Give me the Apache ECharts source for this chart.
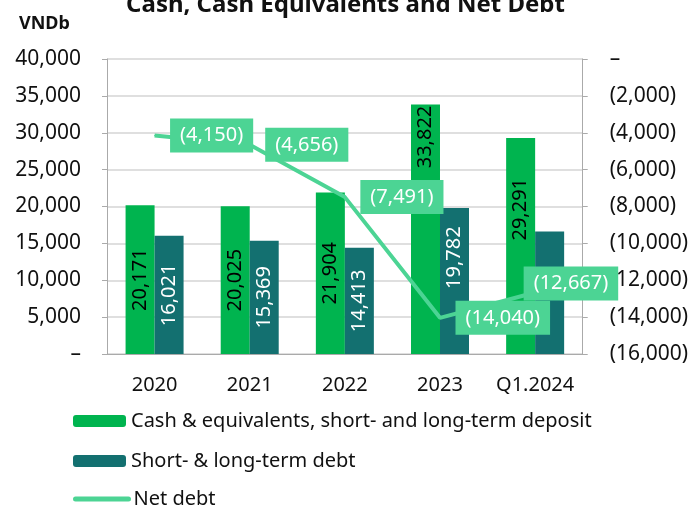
<!DOCTYPE html>
<html><head><meta charset="utf-8">
<script src="https://cdn.jsdelivr.net/npm/echarts@6/dist/echarts.min.js"></script>
<style>html,body{margin:0;padding:0;background:#fff}#c{width:691px;height:510px}</style>
</head><body><div id="c"></div>
<script>
const categories = ['2020', '2021', '2022', '2023', 'Q1.2024'];
const cashValues = [20171, 20025, 21904, 33822, 29291];
const debtValues = [16021, 15369, 14413, 19782, 16624];
const netDebtValues = [-4150, -4656, -7491, -14040, -12667];
const seriesNames = ['Cash & equivalents, short- and long-term deposit', 'Short- & long-term debt', 'Net debt'];

const FONT = 'Noto Sans';
const fmt = v => Math.abs(v).toLocaleString('en-US');
// label placement overrides (styling only)
const cashLabelPos = {3: ['50%', '13%'], 4: ['50%', '33%']};
const debtLabelPos = {3: ['50%', '34%']};
const debtLabelHidden = {4: true};

function barData(vals, posMap, hidden) {
  return vals.map((v, i) => {
    if (hidden && hidden[i]) return {value: v, label: {show: false}};
    if (posMap[i]) return {value: v, label: {position: posMap[i], align: 'center', verticalAlign: 'middle'}};
    return v;
  });
}

const legendTops = [411, 451, 489];
const legends = seriesNames.map((n, i) => ({
  orient: 'vertical', left: 73, top: legendTops[i], itemWidth: 53, itemHeight: 12, padding: 0,
  textStyle: {fontFamily: FONT, fontSize: 20, color: '#111', lineHeight: 20},
  data: [i === 2 ? {name: n, itemStyle: {opacity: 0}, lineStyle: {width: 5, cap: 'round', color: '#4cd494'}} : n]
}));

const chart = echarts.init(document.getElementById('c'));
chart.setOption({
  animation: false,
  textStyle: {fontFamily: FONT},
  title: [
    {text: 'Cash, Cash Equivalents and Net Debt', left: 'center', top: -12,
     textStyle: {fontFamily: FONT, fontSize: 24, fontWeight: 'bold', color: '#111'}},
    {text: 'VNDb', left: 14, top: 10, textStyle: {fontFamily: FONT, fontSize: 18, fontWeight: 'bold', color: '#111'}}
  ],
  grid: {left: 107, right: 106, top: 59, bottom: 156},
  legend: legends,
  xAxis: {
    type: 'category', data: categories,
    axisLine: {lineStyle: {color: '#aaa'}}, axisTick: {show: false},
    axisLabel: {fontFamily: FONT, fontSize: 20, color: '#111', margin: 21, interval: 0}
  },
  yAxis: [
    {type: 'value', min: 0, max: 40000, interval: 5000,
     axisLine: {show: true, lineStyle: {color: '#aaa'}},
     axisTick: {show: true, length: 5, lineStyle: {color: '#aaa'}},
     splitLine: {lineStyle: {color: '#d4d4d4', width: 1.5}},
     axisLabel: {fontFamily: FONT, fontSize: 21, color: '#111', margin: 26,
       formatter: v => v === 0 ? '–' : v.toLocaleString('en-US')}},
    {type: 'value', min: -16000, max: 0, interval: 2000,
     axisLine: {show: true, lineStyle: {color: '#aaa'}},
     axisTick: {show: true, length: 5, lineStyle: {color: '#aaa'}},
     splitLine: {show: false},
     axisLabel: {fontFamily: FONT, fontSize: 21, color: '#111', margin: 27,
       formatter: v => v === 0 ? '–' : '(' + fmt(v) + ')'}}
  ],
  series: [
    {name: seriesNames[0], type: 'bar', data: barData(cashValues, cashLabelPos), barWidth: 29, barGap: '0%',
     itemStyle: {color: '#00b44f'},
     label: {show: true, position: 'inside', rotate: 90, fontFamily: FONT, fontSize: 20, color: '#000',
       formatter: p => fmt(p.value)}},
    {name: seriesNames[1], type: 'bar', data: barData(debtValues, debtLabelPos, debtLabelHidden), barWidth: 29, barGap: '0%',
     itemStyle: {color: '#137070'},
     label: {show: true, position: 'inside', rotate: 90, fontFamily: FONT, fontSize: 20, color: '#fff',
       formatter: p => fmt(p.value)}},
    {name: seriesNames[2], type: 'line', yAxisIndex: 1, data: netDebtValues.map((v, i) => i === 4 ? {value: v, label: {offset: [-27, -9]}} : v),
     symbol: 'circle', symbolSize: 1, showSymbol: true, z: 5,
     lineStyle: {color: '#4cd494', width: 4}, itemStyle: {color: '#4cd494'},
     label: {show: true, position: 'right', distance: 15, fontFamily: FONT, fontSize: 20, color: '#fff',
       backgroundColor: '#4cd494', padding: [7, 10, 7, 10],
       formatter: p => '(' + fmt(p.value) + ')'}}
  ]
});
</script></body></html>
